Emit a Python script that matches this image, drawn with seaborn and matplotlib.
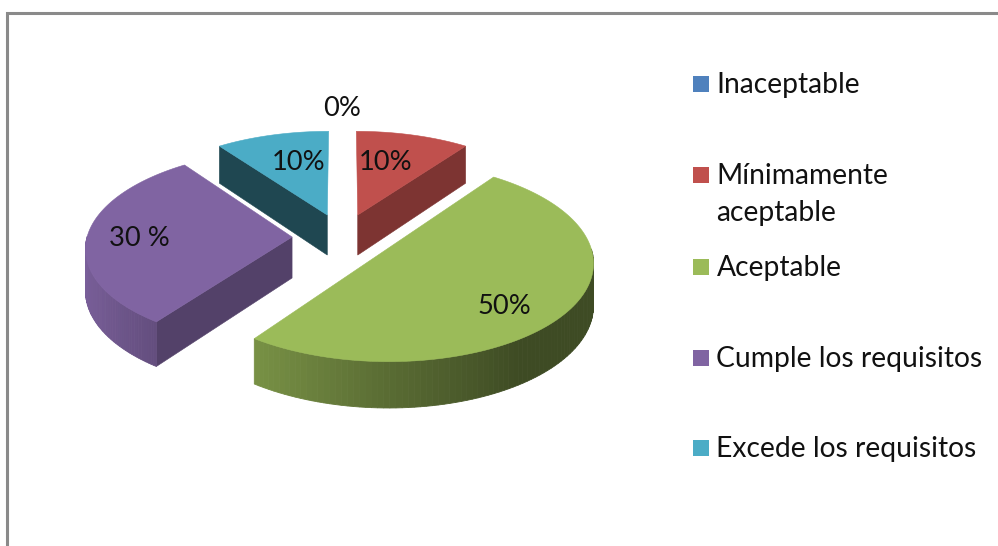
import numpy as np
import matplotlib
matplotlib.use("Agg")
import matplotlib.pyplot as plt
from matplotlib.patches import Rectangle
import seaborn as sns

# data
categories = ["Inaceptable", "Mínimamente\naceptable", "Aceptable", "Cumple los requisitos", "Excede los requisitos"]
values = [0, 10, 50, 30, 10]
pct_labels = ["0%", "10%", "50%", "30 %", "10%"]
colors = ["#4F81BD", "#C0504D", "#9BBB59", "#8064A2", "#4BACC6"]

# layout
label_pos = [(342, 109), (386, 163), (504, 307), (139, 239), (299, 163)]
legend_y = [84, 175, 266.5, 357.5, 448]

# projection of the tilted pie
X0, Y0, R, RK = 342.5, 237, 205, 96.3
PERSP, EXPLODE, DEPTH = 0.101, 0.246, 41


def project(u, v, drop=0.0):
    s = 1 / (1 + PERSP * v)
    return X0 + R * u * s, Y0 - RK * v * s + drop * s


def shade(col, f):
    return tuple(np.array(matplotlib.colors.to_rgb(col)) * f)


sns.set_theme(style="white")
plt.rcParams['font.family'] = ['Lato', 'DejaVu Sans']
palette = sns.color_palette(colors)

fig = plt.figure(figsize=(9.98, 5.46), dpi=100, facecolor="white")
ax = fig.add_axes([0, 0, 1, 1])
ax.set_xlim(0, 998)
ax.set_ylim(546, 0)
ax.axis("off")

# outer chart frame
ax.plot([7, 7, 998], [546, 13, 13], color="#8A8A8A", lw=2.2, solid_joinstyle="miter")

edges = np.cumsum([0] + values) / sum(values) * 2 * np.pi
for i, col in enumerate(palette):
    if values[i] == 0:
        continue
    t0, t1 = edges[i], edges[i + 1]
    mid = (t0 + t1) / 2
    au, av = EXPLODE * np.sin(mid), EXPLODE * np.cos(mid)
    th = np.linspace(t0, t1, 120)
    rim_u, rim_v = au + np.sin(th), av + np.cos(th)

    # cut faces that look towards the viewer
    for t, sign in ((t0, -1), (t1, 1)):
        normal_u, normal_v = sign * np.cos(t), -sign * np.sin(t)
        if normal_v > -1e-6:
            continue
        ex, ey = project(au + np.sin(t), av + np.cos(t))
        px, py = project(au, av)
        ex2, ey2 = project(au + np.sin(t), av + np.cos(t), DEPTH)
        px2, py2 = project(au, av, DEPTH)
        f = 0.65 if normal_u > 0 else 0.41
        ax.fill([px, ex, ex2, px2], [py, ey, ey2, py2], color=shade(col, f), lw=0.4, zorder=2)

    # curved outer wall, drawn in thin strips for the gradient
    for j in range(len(th) - 1):
        if np.cos(th[j]) > 0 and np.cos(th[j + 1]) > 0:
            continue
        xa, ya = project(rim_u[j], rim_v[j])
        xb, yb = project(rim_u[j + 1], rim_v[j + 1])
        xc, yc = project(rim_u[j + 1], rim_v[j + 1], DEPTH)
        xd, yd = project(rim_u[j], rim_v[j], DEPTH)
        f = np.interp(np.sin(th[j]), [-1, -0.59, 0, 0.6, 1], [0.95, 0.78, 0.58, 0.40, 0.40])
        ax.fill([xa, xb, xc, xd], [ya, yb, yc, yd], color=shade(col, f), lw=0.6, zorder=2)

    # top face
    xs, ys = project(np.r_[au, rim_u], np.r_[av, rim_v])
    ax.fill(xs, ys, color=col, lw=0.4, zorder=3)

for txt, (x, y) in zip(pct_labels, label_pos):
    ax.text(x, y, txt, fontsize=19.6, color="#111111", ha="center", va="center", zorder=5)

# legend
for cat, col, y in zip(categories, palette, legend_y):
    ax.add_patch(Rectangle((693, y - 8), 16, 16, facecolor=col, edgecolor="none", zorder=4))
    lines = cat.split("\n")
    for k, line in enumerate(lines):
        ax.text(716.5, y + 1.5 + k * 37, line, fontsize=20.3, color="#111111", ha="left", va="center", zorder=5)

fig.savefig("out.png", dpi=100)
